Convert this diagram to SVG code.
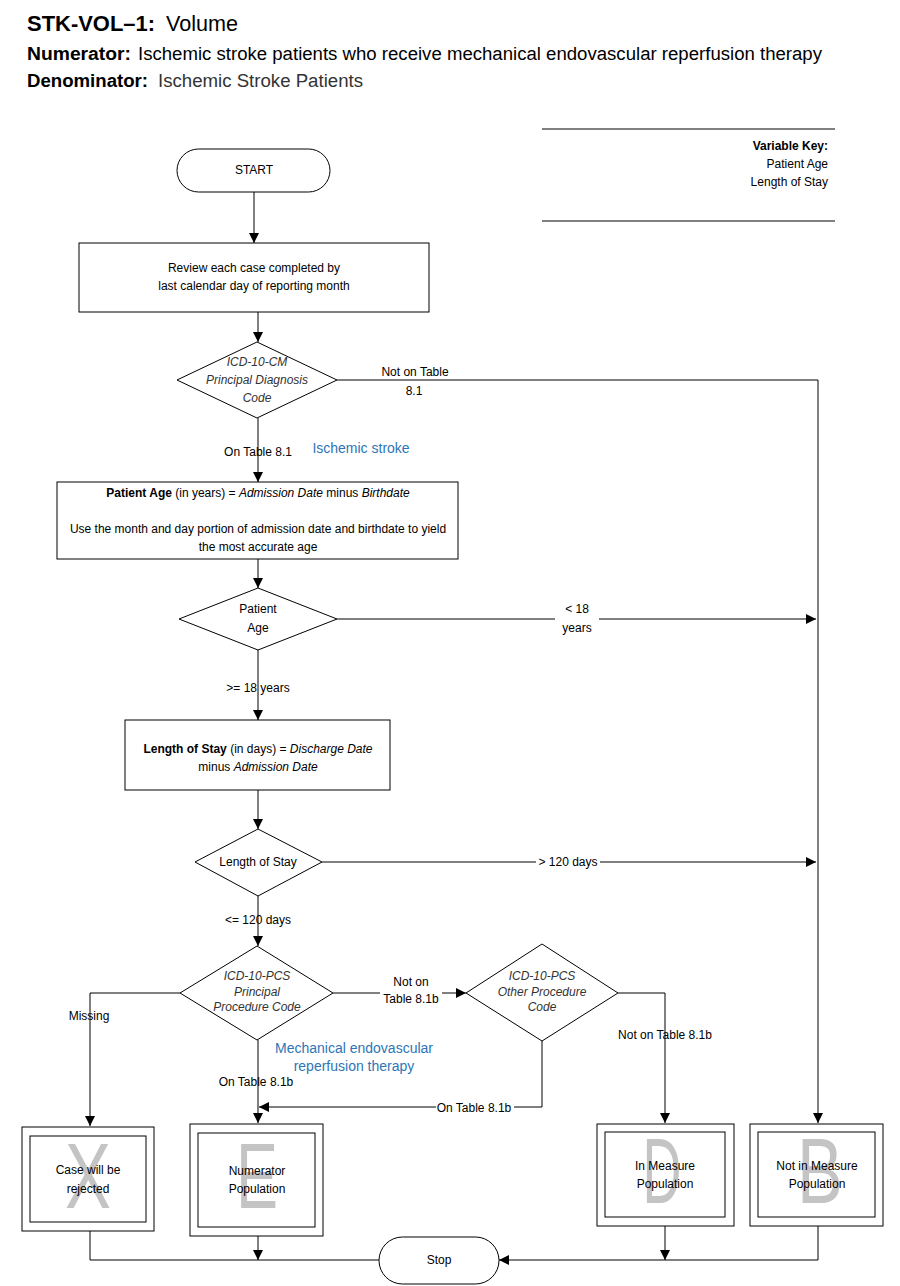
<svg xmlns="http://www.w3.org/2000/svg" width="900" height="1286" viewBox="0 0 900 1286">
<style>
text{font-family:"Liberation Sans",Arial,sans-serif;fill:#000}
.t{font-size:12px;text-anchor:middle}
.i{font-style:italic}
.b{font-weight:bold}
.blue{fill:#2E75B6;font-size:14px;text-anchor:middle}
.shape{fill:#fff;stroke:#000;stroke-width:1}
.line{fill:none;stroke:#000;stroke-width:1}
.big{font-size:92px;fill:#c4c4c4;text-anchor:middle}
.lbl{font-size:12px;text-anchor:middle}
</style>
<defs>
<marker id="ah" markerWidth="10" markerHeight="10" refX="10" refY="5" orient="auto" markerUnits="userSpaceOnUse">
<path d="M0,0 L10,5 L0,10 Z" fill="#000"/>
</marker>
</defs>
<rect width="900" height="1286" fill="#fff"/>

<g id="header">
<text x="27" y="31" font-size="22"><tspan class="b" textLength="128" lengthAdjust="spacingAndGlyphs">STK-VOL–1:</tspan></text>
<text x="166" y="31" font-size="22" textLength="72" lengthAdjust="spacingAndGlyphs">Volume</text>
<text x="27" y="60" font-size="18" class="b" textLength="104" lengthAdjust="spacingAndGlyphs">Numerator:</text>
<text x="138" y="60" font-size="18" textLength="684" lengthAdjust="spacingAndGlyphs">Ischemic stroke patients who receive mechanical endovascular reperfusion therapy</text>
<text x="27" y="87" font-size="18" class="b" textLength="121" lengthAdjust="spacingAndGlyphs">Denominator:</text>
<text x="158" y="87" font-size="18" fill="#333" textLength="205" lengthAdjust="spacingAndGlyphs" style="fill:#333">Ischemic Stroke Patients</text>
</g>

<g id="variable-key">
<line x1="542" y1="129" x2="835" y2="129" class="line"/>
<line x1="542" y1="221" x2="835" y2="221" class="line"/>
<text x="828" y="150" font-size="12" class="b" text-anchor="end">Variable Key:</text>
<text x="828" y="168" font-size="12" text-anchor="end">Patient Age</text>
<text x="828" y="186" font-size="12" text-anchor="end">Length of Stay</text>
</g>

<g id="connectors">
<line x1="254" y1="192" x2="254" y2="243" class="line" marker-end="url(#ah)"/>
<line x1="258" y1="312" x2="258" y2="342" class="line" marker-end="url(#ah)"/>
<polyline points="337,380 818,380 818,1123" class="line" marker-end="url(#ah)"/>
<line x1="258" y1="418" x2="258" y2="482" class="line" marker-end="url(#ah)"/>
<line x1="258" y1="559" x2="258" y2="588" class="line" marker-end="url(#ah)"/>
<line x1="337" y1="619" x2="816" y2="619" class="line" marker-end="url(#ah)"/>
<line x1="258" y1="650" x2="258" y2="720" class="line" marker-end="url(#ah)"/>
<line x1="258" y1="790" x2="258" y2="829" class="line" marker-end="url(#ah)"/>
<line x1="322" y1="862" x2="816" y2="862" class="line" marker-end="url(#ah)"/>
<line x1="258" y1="896" x2="258" y2="946" class="line" marker-end="url(#ah)"/>
<line x1="333" y1="993" x2="466" y2="993" class="line" marker-end="url(#ah)"/>
<polyline points="618,993 665,993 665,1123" class="line" marker-end="url(#ah)"/>
<polyline points="542,1041 542,1107 259,1107" class="line" marker-end="url(#ah)"/>
<polyline points="180,993 90,993 90,1126" class="line" marker-end="url(#ah)"/>
<line x1="258" y1="1040" x2="258" y2="1123" class="line" marker-end="url(#ah)"/>
<polyline points="90,1231 90,1260 379,1260" class="line"/>
<line x1="258" y1="1236" x2="258" y2="1260" class="line" marker-end="url(#ah)"/>
<line x1="665" y1="1226" x2="665" y2="1260" class="line" marker-end="url(#ah)"/>
<polyline points="818,1226 818,1260 499,1260" class="line" marker-end="url(#ah)"/>
<text x="415" y="376" class="lbl">Not on Table</text>
<text x="414" y="395" class="lbl">8.1</text>
<text x="258" y="456" class="lbl">On Table 8.1</text>
<text x="361" y="453" class="blue">Ischemic stroke</text>
<rect x="555" y="602" width="44" height="30" fill="#fff"/>
<text x="577" y="613" class="lbl">&lt; 18</text>
<text x="577" y="632" class="lbl">years</text>
<text x="258" y="692" class="lbl">&gt;= 18 years</text>
<rect x="536" y="854" width="64" height="16" fill="#fff"/>
<text x="568" y="866" class="lbl">&gt; 120 days</text>
<text x="258" y="924" class="lbl">&lt;= 120 days</text>
<rect x="380" y="972" width="62" height="32" fill="#fff"/>
<text x="411" y="986" class="lbl">Not on</text>
<text x="411" y="1003" class="lbl">Table 8.1b</text>
<text x="665" y="1039" class="lbl">Not on Table 8.1b</text>
<rect x="436" y="1100" width="78" height="15" fill="#fff"/>
<text x="474" y="1112" class="lbl">On Table 8.1b</text>
<text x="89" y="1020" class="lbl">Missing</text>
<text x="256" y="1086" class="lbl">On Table 8.1b</text>
<text x="354" y="1053" class="blue">Mechanical endovascular</text>
<text x="354" y="1071" class="blue">reperfusion therapy</text>
</g>

<g id="start">
<rect x="177" y="149" width="153" height="43" rx="21.5" class="shape"/>
<text x="254" y="174" class="t">START</text>
</g>

<g id="review">
<rect x="79" y="243" width="350" height="69" class="shape"/>
<text x="254" y="272" class="t">Review each case completed by</text>
<text x="254" y="290" class="t">last calendar day of reporting month</text>
</g>

<g id="dx-code">
<polygon points="257,342 337,380 257,418 177,380" class="shape"/>
<text x="257" y="366" class="t i" style="fill:#333">ICD-10-CM</text>
<text x="257" y="384" class="t i" style="fill:#333">Principal Diagnosis</text>
<text x="257" y="402" class="t i" style="fill:#333">Code</text>
</g>

<g id="patient-age-calc">
<rect x="57" y="482" width="401" height="77" class="shape"/>
<text x="258" y="497" class="t"><tspan class="b">Patient Age</tspan> (in years) = <tspan class="i">Admission Date</tspan> minus <tspan class="i">Birthdate</tspan></text>
<text x="258" y="533" class="t">Use the month and day portion of admission date and birthdate to yield</text>
<text x="258" y="551" class="t">the most accurate age</text>
</g>

<g id="patient-age">
<polygon points="258,588 337,619 258,650 179,619" class="shape"/>
<text x="258" y="613" class="t">Patient</text>
<text x="258" y="632" class="t">Age</text>
</g>

<g id="los-calc">
<rect x="125" y="720" width="265" height="70" class="shape"/>
<text x="258" y="753" class="t"><tspan class="b">Length of Stay</tspan> (in days) = <tspan class="i">Discharge Date</tspan></text>
<text x="258" y="771" class="t">minus <tspan class="i">Admission Date</tspan></text>
</g>

<g id="los">
<polygon points="258,829 322,862 258,896 195,862" class="shape"/>
<text x="258" y="866" class="t">Length of Stay</text>
</g>

<g id="pcs-principal">
<polygon points="257,946 333,993 257,1040 180,993" class="shape"/>
<text x="257" y="980" class="t i" style="fill:#333">ICD-10-PCS</text>
<text x="257" y="996" class="t i" style="fill:#333">Principal</text>
<text x="257" y="1011" class="t i" style="fill:#333">Procedure Code</text>
</g>

<g id="pcs-other">
<polygon points="542,944 618,993 542,1041 466,993" class="shape"/>
<text x="542" y="980" class="t i" style="fill:#333">ICD-10-PCS</text>
<text x="542" y="996" class="t i" style="fill:#333">Other Procedure</text>
<text x="542" y="1011" class="t i" style="fill:#333">Code</text>
</g>

<g id="rejected">
<rect x="22" y="1127" width="132" height="104" class="shape"/>
<rect x="30" y="1136" width="116" height="86" class="shape"/>
<text x="88" y="1208" class="big" textLength="46" lengthAdjust="spacingAndGlyphs">X</text>
<text x="88" y="1174" class="t">Case will be</text>
<text x="88" y="1193" class="t">rejected</text>
</g>

<g id="numerator">
<rect x="190" y="1124" width="133" height="112" class="shape"/>
<rect x="198" y="1133" width="117" height="94" class="shape"/>
<text x="257" y="1208" class="big" textLength="42" lengthAdjust="spacingAndGlyphs">E</text>
<text x="257" y="1175" class="t">Numerator</text>
<text x="257" y="1193" class="t">Population</text>
</g>

<g id="in-measure">
<rect x="597" y="1124" width="137" height="102" class="shape"/>
<rect x="605" y="1132" width="120" height="85" class="shape"/>
<text x="662" y="1203" class="big" textLength="39" lengthAdjust="spacingAndGlyphs">D</text>
<text x="665" y="1170" class="t">In Measure</text>
<text x="665" y="1188" class="t">Population</text>
</g>

<g id="not-in-measure">
<rect x="750" y="1124" width="133" height="102" class="shape"/>
<rect x="758" y="1132" width="117" height="85" class="shape"/>
<text x="820" y="1203" class="big" textLength="46" lengthAdjust="spacingAndGlyphs">B</text>
<text x="817" y="1170" class="t">Not in Measure</text>
<text x="817" y="1188" class="t">Population</text>
</g>

<g id="stop">
<rect x="379" y="1237" width="120" height="47" rx="23.5" class="shape"/>
<text x="439" y="1264" class="t">Stop</text>
</g>
</svg>
